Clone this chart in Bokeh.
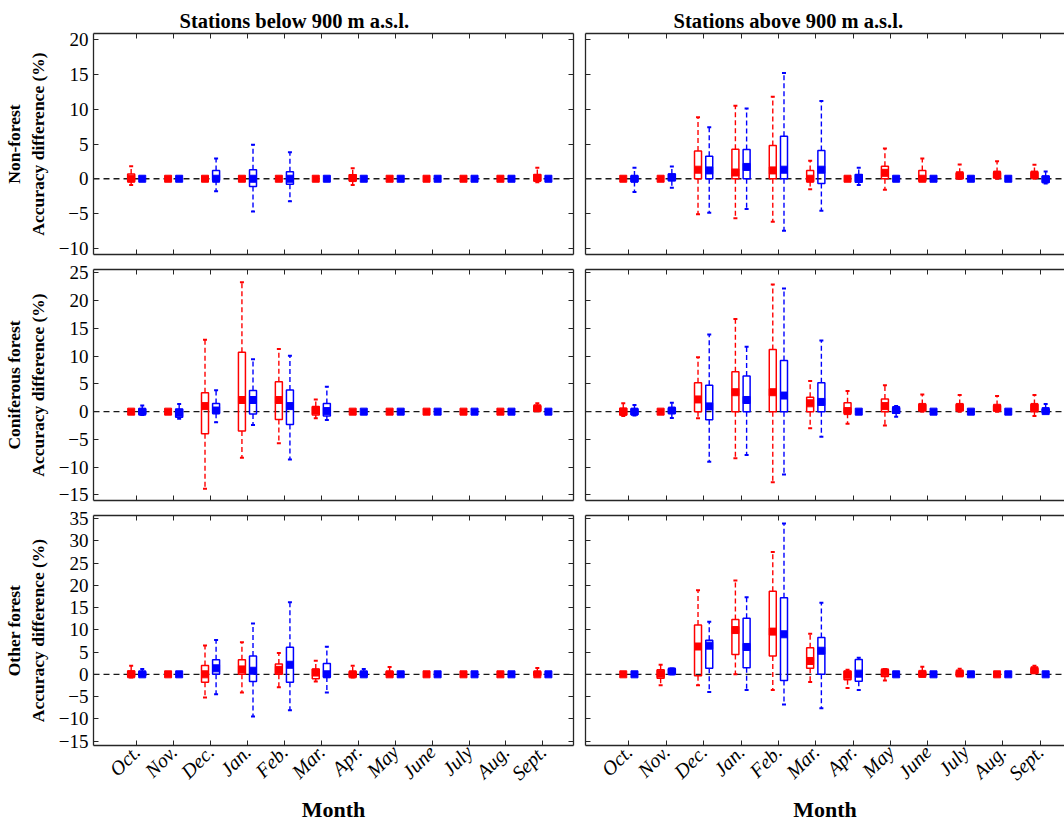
from bokeh.plotting import figure
from bokeh.models import Range1d, LinearAxis, FixedTicker, Span, Title
from bokeh.layouts import column, row
from bokeh.embed import file_html
from bokeh.resources import INLINE
import math

months = ["Oct.", "Nov.", "Dec.", "Jan.", "Feb.", "Mar.", "Apr.", "May", "June", "July", "Aug.", "Sept."]
month_pos = list(range(1, 13))
column_titles = ["Stations below 900 m a.s.l.", "Stations above 900 m a.s.l."]
row_labels = ["Non-forest", "Coniferous forest", "Other forest"]
y_label = "Accuracy difference (%)"
x_label = "Month"
yticks_row = [[-10, -5, 0, 5, 10, 15, 20],
              [-15, -10, -5, 0, 5, 10, 15, 20, 25],
              [-15, -10, -5, 0, 5, 10, 15, 20, 25, 30, 35]]
ylims_row = [(-10.9, 20.9), (-16, 25.6), (-16, 35.7)]

# ---- Non-forest, below 900 m ----
nf_lo_red_wlo = [-0.9, 0, 0, 0, 0, 0, -0.9, 0, 0, 0, 0, -0.5]
nf_lo_red_q1 = [-0.4, 0, 0, 0, 0, 0, -0.3, 0, 0, 0, 0, -0.3]
nf_lo_red_med = [0, 0, 0, 0, 0, 0, 0.1, 0, 0, 0, 0, 0.1]
nf_lo_red_q3 = [0.67, 0, 0, 0, 0, 0, 0.57, 0, 0, 0, 0, 0.6]
nf_lo_red_whi = [1.8, 0, 0, 0, 0, 0, 1.5, 0, 0, 0, 0, 1.6]
nf_lo_blue_wlo = [0, 0, -1.8, -4.7, -3.25, 0, 0, 0, 0, 0, 0, 0]
nf_lo_blue_q1 = [0, 0, -0.2, -1.1, -0.8, 0, 0, 0, 0, 0, 0, 0]
nf_lo_blue_med = [0, 0, 0, 0, 0, 0, 0, 0, 0, 0, 0, 0]
nf_lo_blue_q3 = [0, 0, 1.2, 1.3, 1.0, 0, 0, 0, 0, 0, 0, 0]
nf_lo_blue_whi = [0, 0, 2.9, 4.9, 3.8, 0, 0, 0, 0, 0, 0, 0]

# ---- Non-forest, above 900 m ----
nf_hi_red_wlo = [0, 0, -5.1, -5.7, -6.2, -1.5, 0, -1.6, -0.3, 0, 0, 0]
nf_hi_red_q1 = [0, 0, 0, 0, 0, -0.4, 0, 0, -0.3, 0, 0.1, 0.1]
nf_hi_red_med = [0, 0, 1.3, 0.9, 1.2, 0, 0, 0.85, 0, 0.5, 0.6, 0.6]
nf_hi_red_q3 = [0, 0, 4.0, 4.25, 4.8, 1.2, 0, 1.8, 1.2, 0.8, 0.9, 0.9]
nf_hi_red_whi = [0, 0, 8.85, 10.5, 11.8, 2.6, 0, 4.35, 2.9, 2.05, 2.5, 2.0]
nf_hi_blue_wlo = [-1.9, -1.3, -4.9, -4.35, -7.5, -4.6, -0.9, 0, 0, 0, 0, -0.7]
nf_hi_blue_q1 = [-0.4, -0.3, 0, 0, 0, -0.7, -0.5, 0, 0, 0, 0, -0.5]
nf_hi_blue_med = [0, 0.2, 1.2, 1.7, 1.3, 1.3, 0.1, 0, 0, 0, 0, -0.1]
nf_hi_blue_q3 = [0.4, 0.7, 3.25, 4.2, 6.1, 4.05, 0.6, 0, 0, 0, 0, 0.4]
nf_hi_blue_whi = [1.6, 1.75, 7.4, 10.1, 15.2, 11.2, 1.6, 0, 0, 0, 0, 1.05]

# ---- Coniferous forest, below 900 m ----
co_lo_red_wlo = [0, 0, -13.9, -8.3, -5.7, -1.2, 0, 0, 0, 0, 0, 0.1]
co_lo_red_q1 = [0, 0, -4.0, -3.5, -1.4, -0.6, 0, 0, 0, 0, 0, 0.1]
co_lo_red_med = [0, 0, 1.0, 2.1, 2.1, 0.2, 0, 0, 0, 0, 0, 0.6]
co_lo_red_q3 = [0, 0, 3.4, 10.7, 5.4, 0.95, 0, 0, 0, 0, 0, 1.0]
co_lo_red_whi = [0, 0, 12.95, 23.3, 11.3, 2.2, 0, 0, 0, 0, 0, 1.5]
co_lo_blue_wlo = [-0.6, -1.3, -1.9, -2.4, -8.6, -1.5, 0, 0, 0, 0, 0, 0]
co_lo_blue_q1 = [-0.4, -1.0, -0.3, -0.4, -2.3, -0.8, 0, 0, 0, 0, 0, 0]
co_lo_blue_med = [0, -0.2, 0.2, 2.1, 1.0, 0.1, 0, 0, 0, 0, 0, 0]
co_lo_blue_q3 = [0.5, 0.5, 1.45, 3.8, 3.9, 1.45, 0, 0, 0, 0, 0, 0]
co_lo_blue_whi = [1.1, 1.4, 3.85, 9.45, 10.05, 4.5, 0, 0, 0, 0, 0, 0]

# ---- Coniferous forest, above 900 m ----
co_hi_red_wlo = [-0.8, 0, -1.2, -8.4, -12.7, -3.0, -2.2, -2.5, 0, 0, 0, -0.8]
co_hi_red_q1 = [-0.6, 0, 0, 0, 0, 0, -0.3, 0, 0.1, 0.1, 0.1, 0]
co_hi_red_med = [0, 0, 2.2, 3.5, 3.5, 1.5, 0.1, 1.0, 0.85, 0.85, 0.7, 0.85]
co_hi_red_q3 = [0.6, 0, 5.2, 7.2, 11.2, 2.6, 1.6, 2.3, 1.3, 1.3, 1.1, 1.3]
co_hi_red_whi = [1.5, 0, 9.8, 16.7, 22.9, 5.5, 3.7, 4.75, 3.1, 3.0, 2.8, 3.0]
co_hi_blue_wlo = [-0.7, -1.15, -9.0, -7.8, -11.3, -4.5, 0, -0.9, 0, 0, 0, -0.3]
co_hi_blue_q1 = [-0.5, -0.3, -1.45, 0, 0, 0, 0, -0.3, 0, 0, 0, -0.2]
co_hi_blue_med = [0, 0.2, 0.95, 2.1, 2.9, 1.75, 0, 0.3, 0, 0, 0, 0.1]
co_hi_blue_q3 = [0.5, 0.6, 4.75, 6.4, 9.2, 5.2, 0, 0.7, 0, 0, 0, 0.5]
co_hi_blue_whi = [1.2, 1.6, 13.9, 11.7, 22.2, 12.8, 0, 1.0, 0, 0, 0, 1.4]

# ---- Other forest, below 900 m ----
ot_lo_red_wlo = [-0.7, 0, -5.2, -4.1, -2.9, -1.6, -0.7, -0.2, 0, 0, 0, -0.2]
ot_lo_red_q1 = [-0.5, 0, -1.8, 0, 0, -1.0, -0.5, -0.2, 0, 0, 0, -0.2]
ot_lo_red_med = [0, 0, 0, 1.1, 1.0, 0.4, 0, 0, 0, 0, 0, 0]
ot_lo_red_q3 = [0.75, 0, 2.0, 3.3, 2.3, 1.2, 0.6, 0.6, 0, 0, 0, 0.6]
ot_lo_red_whi = [1.9, 0, 6.5, 7.2, 4.8, 3.05, 1.9, 1.65, 0, 0, 0, 1.4]
ot_lo_blue_wlo = [-0.3, 0, -4.5, -9.5, -8.1, -4.1, -0.3, 0, 0, 0, 0, 0]
ot_lo_blue_q1 = [-0.3, 0, 0, -1.6, -1.8, -0.6, -0.3, 0, 0, 0, 0, 0]
ot_lo_blue_med = [0, 0, 1.35, 0.8, 2.15, 0, 0, 0, 0, 0, 0, 0]
ot_lo_blue_q3 = [0.6, 0, 3.3, 4.1, 6.1, 2.45, 0.6, 0, 0, 0, 0, 0]
ot_lo_blue_whi = [1.2, 0, 7.7, 11.4, 16.2, 6.2, 1.2, 0, 0, 0, 0, 0]

# ---- Other forest, above 900 m ----
ot_hi_red_wlo = [0, -2.45, -2.45, 0, -3.55, -1.7, -3.1, -1.4, -0.3, -0.3, 0, 0.3]
ot_hi_red_q1 = [0, -0.9, -0.3, 4.45, 4.1, 1.35, -1.2, -0.5, -0.3, -0.3, 0, 0.3]
ot_hi_red_med = [0, 0.15, 6.25, 9.95, 9.6, 3.0, -0.1, 0.45, 0.1, 0.2, 0, 0.9]
ot_hi_red_q3 = [0, 1.0, 11.1, 12.3, 18.65, 6.0, 0.75, 1.0, 0.6, 0.6, 0, 1.3]
ot_hi_red_whi = [0, 2.15, 18.9, 21.1, 27.5, 9.1, 1.0, 1.2, 1.7, 1.25, 0, 1.9]
ot_hi_blue_wlo = [0, 0, -4.0, -3.55, -6.8, -7.6, -3.55, 0, 0, 0, 0, 0]
ot_hi_blue_q1 = [0, 0.2, 1.35, 1.5, -1.4, 0, -1.55, 0, 0, 0, 0, 0]
ot_hi_blue_med = [0, 0.65, 6.45, 6.15, 9.0, 5.3, 0.15, 0, 0, 0, 0, 0]
ot_hi_blue_q3 = [0, 1.2, 7.65, 12.6, 17.2, 8.25, 3.35, 0, 0, 0, 0, 0]
ot_hi_blue_whi = [0, 1.3, 11.8, 17.3, 33.9, 16.1, 3.7, 0, 0, 0, 0, 0]

panels = {
    ("nf", 0): [(nf_lo_red_wlo, nf_lo_red_q1, nf_lo_red_med, nf_lo_red_q3, nf_lo_red_whi),
                (nf_lo_blue_wlo, nf_lo_blue_q1, nf_lo_blue_med, nf_lo_blue_q3, nf_lo_blue_whi)],
    ("nf", 1): [(nf_hi_red_wlo, nf_hi_red_q1, nf_hi_red_med, nf_hi_red_q3, nf_hi_red_whi),
                (nf_hi_blue_wlo, nf_hi_blue_q1, nf_hi_blue_med, nf_hi_blue_q3, nf_hi_blue_whi)],
    ("co", 0): [(co_lo_red_wlo, co_lo_red_q1, co_lo_red_med, co_lo_red_q3, co_lo_red_whi),
                (co_lo_blue_wlo, co_lo_blue_q1, co_lo_blue_med, co_lo_blue_q3, co_lo_blue_whi)],
    ("co", 1): [(co_hi_red_wlo, co_hi_red_q1, co_hi_red_med, co_hi_red_q3, co_hi_red_whi),
                (co_hi_blue_wlo, co_hi_blue_q1, co_hi_blue_med, co_hi_blue_q3, co_hi_blue_whi)],
    ("ot", 0): [(ot_lo_red_wlo, ot_lo_red_q1, ot_lo_red_med, ot_lo_red_q3, ot_lo_red_whi),
                (ot_lo_blue_wlo, ot_lo_blue_q1, ot_lo_blue_med, ot_lo_blue_q3, ot_lo_blue_whi)],
    ("ot", 1): [(ot_hi_red_wlo, ot_hi_red_q1, ot_hi_red_med, ot_hi_red_q3, ot_hi_red_whi),
                (ot_hi_blue_wlo, ot_hi_blue_q1, ot_hi_blue_med, ot_hi_blue_q3, ot_hi_blue_whi)],
}
row_keys = ["nf", "co", "ot"]

series_colors = ["#FF0000", "#0000FF"]
series_dodge = [-0.15, 0.15]
AX = "#262626"
FONT = "Liberation Serif"


def style_axis(ax, ticks, show):
    ax.ticker = FixedTicker(ticks=ticks)
    ax.minor_tick_line_color = None
    ax.major_tick_in = 5
    ax.major_tick_out = 0
    ax.axis_line_color = AX
    ax.axis_line_width = 1.3
    ax.major_tick_line_color = AX
    ax.major_tick_line_width = 1
    if show:
        ax.major_label_text_font = FONT
        ax.major_label_text_font_size = "19px"
        ax.major_label_text_color = "black"
        ax.major_label_standoff = 5
    else:
        ax.major_label_text_font_size = "0px"
        ax.major_label_text_color = None
        ax.major_label_standoff = 0


# layout geometry (px)
col_w = [579, 485]
col_mb = [(87, 6), (6, 0)]
row_h = [261, 246, 317]
row_mb = [(33, 7), (8, 7), (8, 77)]
x_ranges = [(-0.17, 12.83), (-0.16, 12.654)]
title_offsets = [86, 88]

figs = []
for r in range(3):
    row_figs = []
    for c in range(2):
        p = figure(width=col_w[c], height=row_h[r],
                   x_range=Range1d(*x_ranges[c]), y_range=Range1d(*ylims_row[r]),
                   output_backend="svg", toolbar_location=None,
                   x_axis_location=None, y_axis_location=None,
                   min_border_left=col_mb[c][0], min_border_right=col_mb[c][1],
                   min_border_top=row_mb[r][0], min_border_bottom=row_mb[r][1],
                   outline_line_color=None, background_fill_color="white",
                   border_fill_color="white")
        p.xgrid.visible = False
        p.ygrid.visible = False
        if r == 0:
            p.title = Title(text=column_titles[c], align="left", offset=title_offsets[c],
                            text_font=FONT, text_font_size="20.5px", text_font_style="bold",
                            text_color="black", standoff=4)

        left = LinearAxis()
        style_axis(left, yticks_row[r], c == 0)
        if c == 0:
            left.axis_label = row_labels[r] + "\n" + y_label
            left.axis_label_text_font = FONT
            left.axis_label_text_font_size = "17.5px"
            left.axis_label_text_font_style = "bold"
            left.axis_label_text_color = "black"
            left.axis_label_standoff = 8
        p.add_layout(left, "left")
        if c == 0:
            right = LinearAxis()
            style_axis(right, yticks_row[r], False)
            p.add_layout(right, "right")
        top = LinearAxis()
        style_axis(top, month_pos, False)
        p.add_layout(top, "above")
        bottom = LinearAxis()
        style_axis(bottom, month_pos, r == 2)
        if r == 2:
            bottom.major_label_overrides = {i + 1: m for i, m in enumerate(months)}
            bottom.major_label_orientation = math.pi / 4
            bottom.major_label_text_font_style = "italic"
            bottom.major_label_text_font_size = "20px"
            bottom.major_label_standoff = 3
            bottom.axis_label = x_label
            bottom.axis_label_text_font = FONT
            bottom.axis_label_text_font_size = "22px"
            bottom.axis_label_text_font_style = "bold"
            bottom.axis_label_text_color = "black"
            bottom.axis_label_standoff = 2
        p.add_layout(bottom, "below")

        p.add_layout(Span(location=0, dimension="width", line_color="#1a1a1a",
                          line_dash="6 4", line_width=1.3, level="underlay"))

        for s, (wlo, q1, med, q3, whi) in enumerate(panels[(row_keys[r], c)]):
            col = series_colors[s]
            xs = [m + series_dodge[s] for m in month_pos]
            p.segment(x0=xs, y0=q3, x1=xs, y1=whi, line_color=col, line_width=1.4,
                      line_dash="5 3")
            p.segment(x0=xs, y0=q1, x1=xs, y1=wlo, line_color=col, line_width=1.4,
                      line_dash="5 3")
            p.scatter(x=xs + xs, y=list(whi) + list(wlo), marker="dash", size=4,
                      line_color=col, line_width=2)
            mids = [(a + b) / 2 for a, b in zip(q1, q3)]
            hts = [b - a for a, b in zip(q1, q3)]
            p.rect(x=xs, y=mids, width=7, width_units="screen", height=hts,
                   fill_color=None, line_color=col, line_width=1.5)
            p.scatter(x=xs, y=med, marker="square", size=7, fill_color=col,
                      line_color=col, line_width=1)
        row_figs.append(p)
    figs.append(row(*row_figs))

layout = column(*figs)
open("out.html", "w").write(file_html(layout, INLINE))
